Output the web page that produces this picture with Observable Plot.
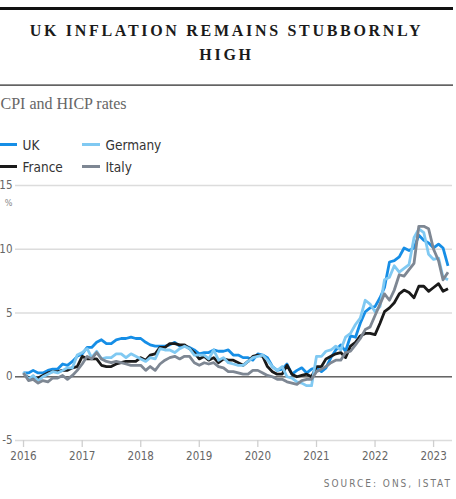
<!DOCTYPE html>
<html>
<head>
<meta charset="utf-8">
<script src="https://cdn.jsdelivr.net/npm/d3@7"></script>
<script src="https://cdn.jsdelivr.net/npm/@observablehq/plot@0.6"></script>
<style>
  html, body { margin: 0; padding: 0; background: #fff; overflow: hidden; }
  #page { position: relative; width: 456px; height: 499px; overflow: hidden; }
  #page svg.hdr { position: absolute; left: 0; top: 0; }
  #chart { position: absolute; left: 0; top: 175px; }
  .cond { font-family: "DejaVu Sans Condensed", "Roboto Condensed", Roboto, sans-serif; font-stretch: condensed; }
</style>
</head>
<body>
<div id="page">
  <svg class="hdr" width="456" height="499" xmlns="http://www.w3.org/2000/svg">
    <rect x="0" y="7" width="453" height="3" fill="#111"></rect>
    <text x="226.5" y="36" text-anchor="middle" font-family="Liberation Serif" font-weight="bold" font-size="16" letter-spacing="2.7" fill="#1a1a1a">UK INFLATION REMAINS STUBBORNLY</text>
    <text x="226.5" y="60" text-anchor="middle" font-family="Liberation Serif" font-weight="bold" font-size="16" letter-spacing="2.7" fill="#1a1a1a">HIGH</text>
    <rect x="0" y="84.5" width="453" height="1.2" fill="#222"></rect>
    <text x="0.5" y="109" font-family="Liberation Serif" font-size="16" fill="#666">CPI and HICP rates</text>
    <g id="legend"></g>
    <text class="cond" x="8.5" y="206" text-anchor="middle" font-size="9" fill="#888">%</text>
    <text class="cond" x="452" y="487" text-anchor="end" font-size="10" letter-spacing="2" fill="#777">SOURCE: ONS, ISTAT</text>
  </svg>
  <div id="chart"></div>
</div>
<script>
// Series names and colours
const seriesNames = ["UK", "France", "Germany", "Italy"];
const seriesColors = ["#168ee6", "#1a1a1a", "#80c9f2", "#7e8793"];

// Monthly annual inflation rates (%), Jan 2016 – Apr 2023
const firstMonth = "2016-01-01";
const ukValues = [
  0.3,0.3,0.5,0.3,0.3,0.5,0.6,0.6,1.0,0.9,1.2,1.6,
  1.8,2.3,2.3,2.7,2.9,2.6,2.6,2.9,3.0,3.0,3.1,3.0,
  3.0,2.7,2.5,2.4,2.4,2.4,2.5,2.7,2.4,2.4,2.3,2.1,
  1.8,1.9,1.9,2.1,2.0,2.0,2.1,1.7,1.7,1.5,1.5,1.3,
  1.8,1.7,1.5,0.8,0.5,0.6,1.0,0.2,0.5,0.7,0.3,0.6,
  0.7,0.4,0.7,1.5,2.1,2.5,2.0,3.2,3.1,4.2,5.1,5.4,
  5.5,6.2,7.0,9.0,9.1,9.4,10.1,9.9,10.1,11.1,10.7,10.5,
  10.1,10.4,10.1,8.7
];
const franceValues = [
  0.3,-0.1,-0.1,-0.1,0.1,0.3,0.4,0.4,0.5,0.5,0.7,0.8,
  1.6,1.4,1.4,1.4,0.9,0.8,0.8,1.0,1.1,1.2,1.2,1.2,
  1.5,1.3,1.7,1.8,2.3,2.3,2.6,2.6,2.5,2.5,2.2,1.9,
  1.4,1.6,1.3,1.5,1.1,1.4,1.3,1.3,1.1,0.9,1.2,1.6,
  1.7,1.6,0.8,0.4,0.2,0.2,0.9,0.2,0.0,0.1,0.2,0.0,
  0.8,0.8,1.4,1.6,1.8,1.9,1.5,2.4,2.7,3.2,3.4,3.4,
  3.3,4.2,5.1,5.4,5.8,6.5,6.8,6.6,6.2,7.1,7.1,6.7,
  7.0,7.3,6.7,6.9
];
const germanyValues = [
  0.4,-0.2,0.1,-0.3,0.0,0.2,0.4,0.3,0.5,0.7,0.7,1.7,
  1.9,2.2,1.5,2.0,1.4,1.5,1.5,1.8,1.8,1.5,1.8,1.6,
  1.4,1.2,1.5,1.4,2.2,2.1,2.1,1.9,2.2,2.4,2.2,1.7,
  1.7,1.7,1.4,2.1,1.3,1.5,1.1,1.0,0.9,0.9,1.2,1.5,
  1.6,1.7,1.3,0.8,0.5,0.8,0.0,-0.1,-0.4,-0.5,-0.7,-0.7,
  1.6,1.6,2.0,2.1,2.4,2.1,3.1,3.4,4.1,4.6,6.0,5.7,
  5.1,5.5,7.6,7.8,8.7,8.2,8.5,8.8,10.9,11.6,11.3,9.6,
  9.2,9.3,7.8,7.6
];
const italyValues = [
  0.3,-0.3,-0.2,-0.5,-0.3,-0.4,-0.1,-0.1,0.1,-0.2,0.1,0.5,
  1.0,1.6,1.4,1.9,1.4,1.2,1.1,1.2,1.1,1.0,0.9,0.9,
  0.9,0.5,0.8,0.5,1.0,1.3,1.5,1.6,1.4,1.6,1.6,1.1,
  0.9,1.1,1.0,1.1,0.8,0.7,0.4,0.4,0.3,0.2,0.2,0.5,
  0.5,0.3,0.1,0.0,-0.2,-0.2,-0.4,-0.5,-0.6,-0.3,-0.2,-0.2,
  0.4,0.6,0.8,1.1,1.3,1.3,1.9,2.0,2.5,3.0,3.7,3.9,
  4.8,5.7,6.5,6.0,6.8,8.0,7.9,8.4,8.9,11.8,11.8,11.6,
  10.0,9.1,7.6,8.2
];
const yTicks = [-5, 0, 5, 10, 15];
const xTickYears = ["2016","2017","2018","2019","2020","2021","2022","2023"];

// Build long table
const start = new Date(firstMonth + "T00:00:00Z");
const allSeries = [ukValues, franceValues, germanyValues, italyValues];
const rows = [];
allSeries.forEach((vals, si) => {
  vals.forEach((v, i) => {
    rows.push({series: seriesNames[si], date: d3.utcMonth.offset(start, i), value: v});
  });
});
const xTicks = xTickYears.map(y => new Date(y + "-01-01T00:00:00Z"));

const chart = Plot.plot({
  width: 456,
  height: 290,
  marginTop: 10,
  marginBottom: 25,
  marginLeft: 15,
  marginRight: 4,
  style: {fontFamily: "'DejaVu Sans Condensed', 'Roboto Condensed', Roboto, sans-serif", fontStretch: "condensed", fontSize: "11.5px", background: "transparent", overflow: "visible"},
  x: {type: "utc", domain: [new Date("2015-11-12T00:00:00Z"), new Date("2023-04-29T00:00:00Z")]},
  y: {domain: [-5, 15]},
  color: {domain: seriesNames, range: seriesColors},
  marks: [
    Plot.gridY(yTicks, {stroke: "#dcdcdc", strokeOpacity: 1, strokeWidth: 1.5}),
    Plot.axisY(yTicks, {tickSize: 0, tickPadding: 3, fill: "#666", label: null, tickFormat: d => String(d)}),
    Plot.axisX(xTicks, {tickSize: 7, tickPadding: 4, stroke: "#cfcfcf", strokeWidth: 1.3, fill: "#666", tickFormat: "%Y", label: null, letterSpacing: 0.6}),
    Plot.ruleY([0], {stroke: "#666", strokeWidth: 1.6}),
    Plot.line(rows, {x: "date", y: "value", z: "series", stroke: "series", strokeWidth: 2.8, strokeLinejoin: "round", strokeLinecap: "butt"})
  ]
});
document.getElementById("chart").appendChild(chart);

// Legend (columns: UK/France, Germany/Italy)
const legend = d3.select("#legend");
const legendPos = [
  {name: "UK", x: -1, y: 144.5},
  {name: "France", x: -1, y: 166.5},
  {name: "Germany", x: 82, y: 144.5},
  {name: "Italy", x: 82, y: 166.5}
];
legendPos.forEach(p => {
  const c = seriesColors[seriesNames.indexOf(p.name)];
  legend.append("rect").attr("x", p.x).attr("y", p.y - 1.5).attr("width", 18).attr("height", 3).attr("fill", c);
  legend.append("text").attr("class", "cond").attr("x", p.x + 23.5).attr("y", p.y + 5.5)
    .attr("font-size", 13.5).attr("fill", "#333").text(p.name);
});
</script>
</body>
</html>
